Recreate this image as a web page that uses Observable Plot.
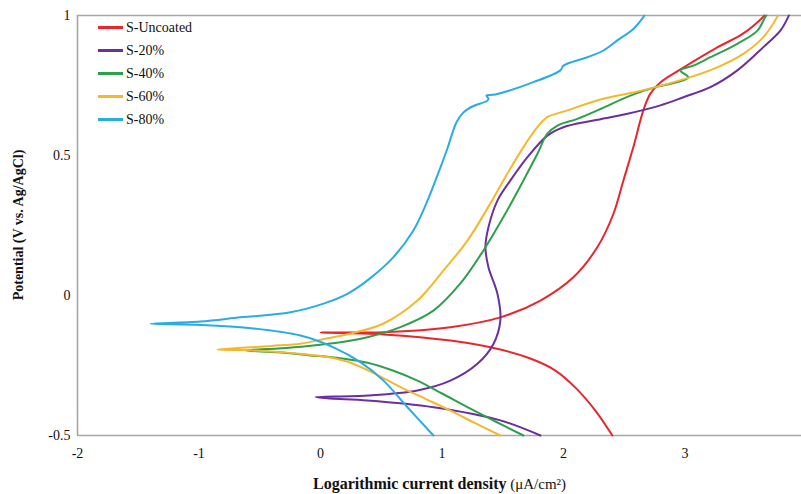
<!DOCTYPE html>
<html>
<head>
<meta charset="utf-8">
<script src="https://cdn.jsdelivr.net/npm/d3@7"></script>
<script src="https://cdn.jsdelivr.net/npm/@observablehq/plot@0.6"></script>
<style>
  html, body { margin: 0; padding: 0; background: #fff; }
  #wrap { position: relative; width: 801px; height: 494px; overflow: hidden; }
  #wrap svg text { font-family: "Liberation Serif", "Times New Roman", serif; font-size: 14px; }
  #legend { position: absolute; left: 98px; top: 16px; font-family: "Liberation Serif", serif; font-size: 14px; color: #111; }
  #legend .row { display: flex; align-items: center; height: 23px; }
  #legend .sw { display: inline-block; width: 25px; height: 2.5px; margin-right: 3px; }
</style>
</head>
<body>
<div id="wrap"></div>
<script>
// ---- data ----
const seriesNames = ["S-Uncoated", "S-20%", "S-40%", "S-60%", "S-80%"];
const seriesColors = ["#e8262d", "#6b2f9e", "#2ea04c", "#f4b82c", "#2aace2"];
const xTicks = [-2, -1, 0, 1, 2, 3];
const yTicks = [-0.5, 0, 0.5, 1];

// each path: cathodic branch (bottom -> Ecorr tip) then anodic branch (tip -> top)
const sUncoated = [
  [2.403,-0.5],[2.263,-0.411],[2.099,-0.329],[1.934,-0.268],[1.728,-0.225],[1.481,-0.193],
  [1.070,-0.161],[0.519,-0.139],[0.165,-0.134],[0.0,-0.132],
  [0.519,-0.131],[1.070,-0.113],[1.481,-0.078],[1.811,-0.018],[2.082,0.065],[2.280,0.173],
  [2.412,0.292],[2.494,0.411],[2.576,0.530],[2.658,0.661],[2.716,0.721],[2.798,0.761],
  [2.988,0.814],[3.267,0.886],[3.481,0.936],[3.646,0.996],[3.654,1.0]
];
const s20 = [
  [1.811,-0.5],[1.481,-0.446],[0.930,-0.399],[0.387,-0.375],[0.082,-0.368],[-0.041,-0.363],
  [0.387,-0.357],[0.798,-0.339],[1.070,-0.304],[1.292,-0.244],[1.424,-0.173],[1.481,-0.089],
  [1.457,0.006],[1.383,0.101],[1.358,0.173],[1.383,0.244],[1.457,0.339],[1.564,0.411],
  [1.704,0.494],[1.868,0.571],[2.000,0.601],[2.247,0.625],[2.527,0.649],[2.798,0.679],
  [2.988,0.708],[3.210,0.744],[3.432,0.804],[3.646,0.887],[3.786,0.946],[3.852,0.996],[3.856,1.0]
];
const s40 = [
  [1.671,-0.5],[1.440,-0.450],[1.210,-0.399],[1.000,-0.350],[0.798,-0.304],[0.590,-0.267],
  [0.387,-0.240],[0.165,-0.224],[-0.100,-0.213],[-0.350,-0.203],[-0.617,-0.196],
  [-0.350,-0.189],[-0.100,-0.180],[0.165,-0.167],[0.387,-0.149],[0.658,-0.113],[0.930,-0.054],
  [1.152,0.043],[1.342,0.161],[1.506,0.280],[1.671,0.411],[1.786,0.506],[1.868,0.578],
  [1.951,0.607],[2.115,0.631],[2.305,0.666],[2.551,0.714],[2.774,0.746],[2.938,0.762],
  [3.029,0.779],[2.963,0.804],[3.070,0.821],[3.210,0.851],[3.432,0.899],[3.597,0.946],
  [3.663,0.996],[3.671,1.0]
];
const s60 = [
  [1.481,-0.5],[1.270,-0.455],[1.070,-0.411],[0.860,-0.368],[0.658,-0.327],[0.450,-0.280],
  [0.247,-0.240],[0.060,-0.220],[-0.150,-0.209],[-0.400,-0.200],[-0.650,-0.195],[-0.848,-0.193],
  [-0.650,-0.187],[-0.400,-0.180],[-0.165,-0.172],[0.025,-0.156],[0.247,-0.136],[0.519,-0.100],
  [0.798,-0.018],[1.012,0.089],[1.210,0.196],[1.399,0.329],[1.506,0.411],[1.671,0.530],
  [1.786,0.601],[1.868,0.637],[2.033,0.661],[2.305,0.700],[2.576,0.725],[2.774,0.746],
  [3.045,0.780],[3.267,0.815],[3.481,0.863],[3.646,0.923],[3.761,0.996],[3.765,1.0]
];
const s80 = [
  [0.930,-0.5],[0.716,-0.399],[0.519,-0.304],[0.329,-0.238],[0.107,-0.185],[-0.165,-0.143],
  [-0.658,-0.113],[-0.988,-0.105],[-1.399,-0.101],
  [-0.988,-0.093],[-0.658,-0.078],[-0.247,-0.060],[0.025,-0.029],[0.222,0.006],[0.387,0.054],
  [0.601,0.137],[0.765,0.232],[0.864,0.321],[0.963,0.429],[1.045,0.525],[1.119,0.618],
  [1.177,0.654],[1.251,0.675],[1.374,0.696],[1.383,0.704],[1.366,0.714],[1.440,0.718],[1.753,0.762],
  [1.975,0.804],[2.000,0.821],[2.198,0.851],[2.329,0.875],[2.444,0.911],[2.576,0.952],
  [2.658,0.994],[2.667,1.0]
];

const seriesData = [sUncoated, s20, s40, s60, s80];
const rows = [];
seriesData.forEach((pts, i) => pts.forEach(([x, y], j) => rows.push({series: seriesNames[i], x, y, order: j})));

const fontFamily = "'Liberation Serif', 'Times New Roman', serif";
const axisColor = "#a6a6a6";

const chart = Plot.plot({
  width: 801,
  height: 494,
  marginLeft: 77,
  marginRight: 0,
  marginTop: 15,
  marginBottom: 59,
  style: {fontFamily, fontSize: "14px", color: "#111", background: "#fff", overflow: "hidden"},
  x: {domain: [-2, 3.96], ticks: xTicks, tickFormat: d => String(d), tickSize: 0, tickPadding: 13, label: null},
  y: {domain: [-0.5, 1], ticks: yTicks, tickFormat: d => String(d), tickSize: 0, tickPadding: 7, label: null},
  color: {domain: seriesNames, range: seriesColors},
  marks: [
    Plot.ruleX([-2], {stroke: axisColor, strokeWidth: 1.6}),
    Plot.ruleY([-0.5, 1], {stroke: axisColor, strokeWidth: 1.6}),
    Plot.line(rows, {x: "x", y: "y", z: "series", stroke: "series", curve: "catmull-rom", strokeWidth: 2})
  ]
});

const svg = d3.select(chart);
// axis titles
svg.append("text")
  .attr("transform", "translate(18,225) rotate(-90)")
  .attr("text-anchor", "middle")
  .attr("dy", "0.35em")
  .style("font-weight", "bold")
  .style("font-size", "14px")
  .attr("fill", "#111")
  .text("Potential (V vs. Ag/AgCl)");

const xt = svg.append("text")
  .attr("x", 313)
  .attr("y", 489)
  .attr("text-anchor", "start")
  .attr("fill", "#111");
xt.append("tspan").style("font-weight", "bold").style("font-size", "16px").text("Logarithmic current density");
xt.append("tspan").style("font-size", "15px").text(" (μA/cm²)");

const wrap = document.getElementById("wrap");
wrap.appendChild(chart);

// legend
const legend = document.createElement("div");
legend.id = "legend";
seriesNames.forEach((name, i) => {
  const row = document.createElement("div");
  row.className = "row";
  const sw = document.createElement("span");
  sw.className = "sw";
  sw.style.background = seriesColors[i];
  const lab = document.createElement("span");
  lab.textContent = name;
  row.appendChild(sw);
  row.appendChild(lab);
  legend.appendChild(row);
});
wrap.appendChild(legend);
</script>
</body>
</html>
